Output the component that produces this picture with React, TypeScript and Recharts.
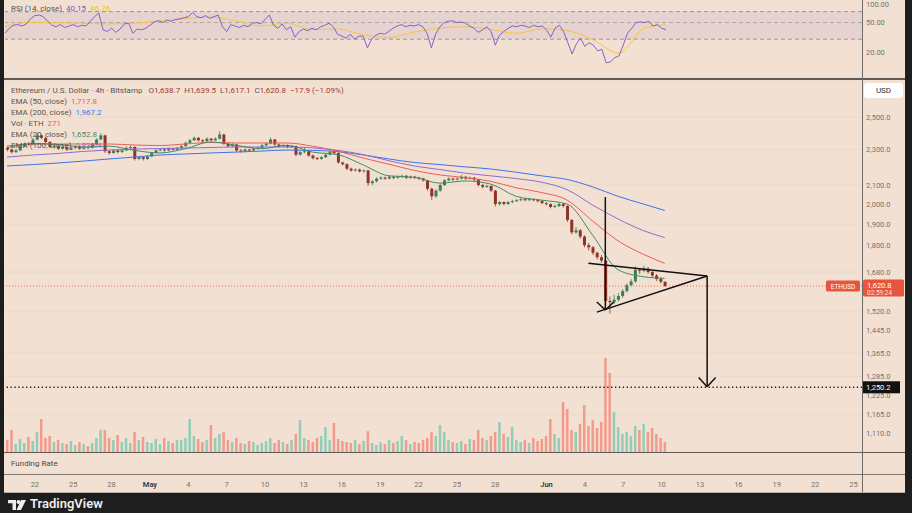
import React from 'react';
import {
  ComposedChart, Bar, Line, XAxis, YAxis, Cell, ReferenceLine, ReferenceArea, CartesianGrid
} from 'recharts';

/* ─── DATA ─────────────────────────────────────── */
// 8h candles: first Apr 19 16:00, last Jun 10 08:00
const FIRST_OPEN = 2310;
const CLOSE = [
  2300, 2285, 2295, 2320, 2335, 2330, 2360, 2385, 2370, 2345,
  2315, 2320, 2305, 2315, 2300, 2310, 2320, 2305, 2315, 2310,
  2330, 2360, 2385, 2290, 2280, 2295, 2285, 2295, 2310, 2315,
  2245, 2255, 2245, 2260, 2280, 2295, 2300, 2295, 2305, 2300,
  2310, 2320, 2340, 2355, 2370, 2355, 2350, 2365, 2355, 2365,
  2390, 2335, 2320, 2330, 2295, 2290, 2300, 2295, 2305, 2310,
  2325, 2335, 2360, 2330, 2320, 2325, 2315, 2320, 2270, 2285,
  2290, 2265, 2250, 2245, 2255, 2270, 2285, 2280, 2225, 2215,
  2190, 2180, 2185, 2175, 2180, 2110, 2120, 2135, 2140, 2135,
  2145, 2140, 2145, 2150, 2140, 2145, 2140, 2135, 2125, 2080,
  2040, 2070, 2100, 2125, 2135, 2130, 2135, 2145, 2135, 2140,
  2130, 2100, 2090, 2095, 2070, 2000, 2010, 2000, 2010, 2015,
  2020, 2025, 2020, 2025, 2020, 2015, 2005, 2000, 1985, 1990,
  2000, 1990, 1920, 1860, 1870, 1840, 1800, 1790, 1765, 1745,
  1730, 1560, 1555, 1565, 1580, 1600, 1625, 1640, 1690, 1685,
  1695, 1680, 1665, 1650, 1638.7, 1620.8,
];
const HIGH = [
  2318, 2306, 2302, 2326, 2342, 2344, 2368, 2402, 2392, 2376,
  2350, 2328, 2326, 2322, 2320, 2316, 2328, 2324, 2322, 2320,
  2336, 2368, 2398, 2390, 2296, 2302, 2300, 2302, 2318, 2324,
  2320, 2262, 2260, 2268, 2286, 2302, 2308, 2306, 2312, 2310,
  2316, 2328, 2348, 2364, 2378, 2376, 2362, 2372, 2370, 2374,
  2412, 2396, 2340, 2338, 2334, 2302, 2306, 2305, 2312, 2318,
  2332, 2342, 2372, 2364, 2336, 2332, 2330, 2326, 2324, 2292,
  2310, 2294, 2270, 2258, 2262, 2278, 2305, 2292, 2284, 2230,
  2220, 2196, 2192, 2190, 2186, 2184, 2128, 2142, 2148, 2146,
  2152, 2150, 2152, 2158, 2155, 2152, 2150, 2146, 2140, 2128,
  2086, 2078, 2108, 2132, 2142, 2140, 2142, 2155, 2150, 2146,
  2144, 2134, 2106, 2102, 2098, 2074, 2016, 2014, 2016, 2022,
  2026, 2032, 2030, 2031, 2028, 2024, 2020, 2010, 2004, 1998,
  2008, 2004, 1994, 1925, 1885, 1876, 1846, 1810, 1796, 1770,
  1755, 1736, 1578, 1585, 1592, 1608, 1632, 1650, 1705, 1698,
  1708, 1702, 1688, 1672, 1658, 1639.5,
];
const LOW = [
  2290, 2276, 2280, 2290, 2314, 2322, 2326, 2354, 2362, 2338,
  2308, 2306, 2298, 2300, 2292, 2294, 2304, 2298, 2300, 2302,
  2306, 2325, 2355, 2280, 2270, 2274, 2278, 2280, 2290, 2304,
  2236, 2238, 2236, 2240, 2255, 2276, 2290, 2288, 2290, 2294,
  2296, 2305, 2316, 2334, 2350, 2348, 2342, 2345, 2348, 2350,
  2360, 2328, 2312, 2314, 2285, 2282, 2285, 2288, 2290, 2300,
  2305, 2320, 2330, 2322, 2312, 2314, 2308, 2310, 2260, 2264,
  2278, 2258, 2242, 2238, 2240, 2250, 2265, 2272, 2218, 2208,
  2182, 2172, 2174, 2168, 2168, 2095, 2100, 2114, 2128, 2128,
  2130, 2132, 2134, 2138, 2132, 2134, 2132, 2128, 2118, 2070,
  2020, 2032, 2064, 2095, 2120, 2122, 2125, 2130, 2128, 2130,
  2122, 2092, 2082, 2084, 2062, 1988, 1992, 1994, 1996, 2005,
  2010, 2015, 2014, 2016, 2014, 2008, 1998, 1992, 1978, 1980,
  1984, 1982, 1910, 1850, 1852, 1830, 1790, 1775, 1755, 1735,
  1720, 1540, 1510, 1548, 1558, 1572, 1594, 1618, 1635, 1672,
  1680, 1672, 1656, 1642, 1632, 1617.1,
];
const VOLUME = [
  324, 594, 216, 351, 243, 405, 297, 540, 891, 378,
  432, 270, 324, 243, 216, 297, 189, 270, 216, 162,
  243, 378, 594, 594, 378, 324, 459, 270, 378, 243,
  540, 324, 405, 270, 243, 351, 216, 378, 297, 243,
  324, 324, 378, 891, 432, 351, 270, 324, 729, 378,
  486, 540, 324, 270, 378, 243, 216, 297, 270, 189,
  243, 297, 378, 243, 324, 270, 216, 324, 486, 864,
  378, 324, 270, 378, 432, 675, 324, 783, 351, 297,
  270, 243, 324, 216, 297, 560, 243, 189, 270, 216,
  324, 243, 297, 432, 324, 216, 270, 243, 324, 378,
  540, 432, 729, 540, 324, 270, 243, 297, 216, 351,
  324, 594, 378, 324, 432, 540, 810, 486, 405, 675,
  324, 270, 324, 243, 378, 297, 351, 432, 891, 486,
  378, 1350, 1161, 594, 540, 756, 1269, 702, 864, 648,
  810, 2538, 2133, 1080, 675, 486, 540, 432, 702, 594,
  756, 540, 648, 486, 378, 271,
];
const RSI = [
  36, 42, 46, 47, 45, 48, 56, 62, 63, 60,
  52, 46, 44, 47, 43, 45, 47, 44, 46, 45,
  52, 60, 67, 40, 38, 42, 37, 41, 48, 49,
  36, 41, 40, 42, 46, 51, 53, 50, 54, 52,
  55, 56, 58, 60, 68, 60, 58, 62, 57, 60,
  63, 44, 38, 47, 45, 43, 46, 44, 49, 50,
  48, 55, 63, 46, 42, 48, 40, 44, 32, 38,
  41, 39, 42, 40, 44, 46, 49, 44, 35, 33,
  31, 35, 30, 33, 33, 23, 30, 34, 36, 35,
  38, 42, 45, 47, 44, 46, 45, 47, 44, 36,
  23, 35, 44, 50, 52, 53, 50, 51, 49, 45,
  42, 37, 40, 44, 38, 25, 34, 38, 42, 45,
  44, 46, 45, 43, 46, 44, 45, 40, 32, 42,
  46, 38, 27, 19, 26, 31, 24, 27, 25, 21,
  22, 14.5, 15, 17, 18, 25, 36, 42, 50, 51,
  50, 52, 45, 47, 42, 40.15,
];
// indicators sampled every 6th candle (2 days); the last value sits on the final candle
const SAMPLE_STEP = 6;
const EMA20 = [2310, 2335, 2330, 2315, 2320, 2295, 2280, 2305, 2345, 2325, 2305, 2325, 2285, 2270, 2210, 2150, 2142, 2110, 2122, 2105, 2040, 2020, 2000, 1847, 1690, 1660, 1652.8];
const EMA50 = [2321, 2333, 2333, 2333, 2333, 2327, 2324, 2333, 2342, 2339, 2339, 2339, 2320, 2290, 2250, 2215, 2180, 2155, 2140, 2120, 2085, 2060, 2020, 1915, 1820, 1758, 1717.8];
const EMA100 = [2256, 2268, 2277, 2289, 2297, 2303, 2306, 2309, 2312, 2315, 2315, 2315, 2310, 2295, 2270, 2235, 2205, 2185, 2165, 2150, 2135, 2115, 2075, 1995, 1925, 1868, 1835.4];
const EMA200 = [2205, 2213, 2222, 2233, 2245, 2256, 2268, 2274, 2280, 2285, 2291, 2297, 2295, 2288, 2268, 2245, 2225, 2213, 2200, 2188, 2170, 2150, 2130, 2090, 2040, 2000, 1967.2];
const RSI_MA = [44, 50.5, 49.8, 49, 48, 49, 52, 56.5, 59, 53, 45, 49, 40.5, 41, 34.5, 31.7, 37.3, 42.3, 44, 40.5, 36, 41.3, 38.8, 29.3, 19.5, 42.5, 46.76];

const TOTAL_ROWS = 202;      // candles + empty future slots up to the right axis
const APR22_ROW = 7;         // row of Apr 22 00:00
const TICK_DAYS = [0, 3, 6, 9, 12, 15, 18, 21, 24, 27, 30, 33, 36, 40, 43, 46, 49, 52, 55, 58, 61, 64];
const TICK_LABELS = ['22', '25', '28', 'May', '4', '7', '10', '13', '16', '19', '22', '25', '28', 'Jun', '4', '7', '10', '13', '16', '19', '22', '25'];
const PRICE_TICKS = [1110, 1165, 1225, 1285, 1365, 1445, 1520, 1680, 1800, 1900, 2000, 2100, 2300, 2500];
const RSI_TICKS = [10, 20, 50, 100];
const TARGET = 1250.2;
const LAST = 1620.8;
const HEADER = { o: 1638.7, h: 1639.5, l: 1617.1, c: 1620.8, chg: -17.9, pct: -1.09 };

// hand drawn lines, as [candle row, price] pairs
const DRAWINGS = [
  [[141, 2036], [141, 1524]],
  [[139, 1556], [141, 1524]],
  [[143, 1556], [141, 1524]],
  [[137, 1718], [165, 1663]],
  [[139, 1516], [165, 1663]],
  [[165, 1663], [165, 1252]],
  [[163, 1282], [165, 1252]],
  [[167, 1282], [165, 1252]],
];

/* ─── ROWS ─────────────────────────────────────── */
const rows: any[] = Array.from({ length: TOTAL_ROWS }, (_, i) => {
  const r: any = { t: i };
  if (i < CLOSE.length) {
    r.o = i === 0 ? FIRST_OPEN : CLOSE[i - 1];
    r.c = CLOSE[i];
    r.h = HIGH[i];
    r.l = LOW[i];
    r.range = [LOW[i], HIGH[i]];
    r.vol = VOLUME[i];
    r.rsi = RSI[i];
  }
  return r;
});
EMA20.forEach((_, k) => {
  const r = rows[Math.min(k * SAMPLE_STEP, CLOSE.length - 1)];
  r.ema20 = EMA20[k];
  r.ema50 = EMA50[k];
  r.ema100 = EMA100[k];
  r.ema200 = EMA200[k];
  r.rsiMa = RSI_MA[k];
});
const LABEL_BY_ROW: Record<number, string> = {};
TICK_DAYS.forEach((d, k) => { LABEL_BY_ROW[APR22_ROW + d * 3] = TICK_LABELS[k]; });

/* ─── STYLE ─────────────────────────────────────── */
const FONT = 'Roboto, "Liberation Sans", Arial, sans-serif';
const BG = '#f2e1d2';
const UP = '#3d7d5a';
const DOWN = '#8f3527';
const C_EMA20 = '#3f8c66';
const C_EMA50 = '#ef5b55';
const C_EMA100 = '#8e6ad4';
const C_EMA200 = '#3d70ef';
const AXIS_TXT = '#767270';

const fmt = (v: number) => v.toLocaleString('en-US', { minimumFractionDigits: 1, maximumFractionDigits: 1 });

/* ─── SHAPES ─────────────────────────────────────── */
const Candle = (p: any) => {
  const { x, y, width, height, payload } = p;
  if (!payload || payload.o == null || !isFinite(y) || !isFinite(height)) return null;
  const top = Math.min(y, y + height);
  const hgt = Math.abs(height);
  const lnH = Math.log(payload.h), lnL = Math.log(payload.l);
  const py = (v: number) => top + hgt * (lnH - Math.log(v)) / (lnH - lnL || 1);
  const up = payload.c >= payload.o;
  const col = up ? UP : DOWN;
  const b0 = py(Math.max(payload.o, payload.c));
  const b1 = py(Math.min(payload.o, payload.c));
  const cx = x + width / 2;
  return (
    <g>
      <line x1={cx} x2={cx} y1={top} y2={top + hgt} stroke={col} strokeWidth={0.8} />
      <rect x={x} y={b0} width={width} height={Math.max(1, b1 - b0)} fill={col} />
    </g>
  );
};

const LastTag = ({ viewBox }: any) => {
  if (!viewBox) return null;
  const r = viewBox.x + viewBox.width;
  const y = viewBox.y;
  return (
    <g fontFamily={FONT}>
      <rect x={r - 36} y={y - 5.5} width={34} height={11} rx={1.5} fill="#e8553f" />
      <text x={r - 19} y={y + 2.5} fontSize={6.5} fill="#fff" textAnchor="middle">ETHUSD</text>
      <rect x={r + 1} y={y - 6.5} width={41} height={17} rx={1.5} fill="#e8553f" />
      <text x={r + 5} y={y + 1.5} fontSize={7.5} fill="#fff">{fmt(LAST)}</text>
      <text x={r + 5} y={y + 8.5} fontSize={6.5} fill="#fbe3dc">02:59:24</text>
    </g>
  );
};

const TargetTag = ({ viewBox }: any) => {
  if (!viewBox) return null;
  const r = viewBox.x + viewBox.width;
  const y = viewBox.y;
  return (
    <g fontFamily={FONT}>
      <rect x={r} y={y - 6} width={38} height={12} fill="#111" />
      <text x={r + 4} y={y + 2.8} fontSize={7.5} fill="#fff">{fmt(TARGET)}</text>
    </g>
  );
};

const DateTick = ({ x, y, payload }: any) => {
  const lab = LABEL_BY_ROW[payload?.value];
  if (!lab) return null;
  const strong = lab === 'May' || lab === 'Jun';
  return (
    <text x={x} y={y + 13} textAnchor="middle" fontSize={7.5} fontFamily={FONT}
      fill={strong ? '#3a3532' : AXIS_TXT} fontWeight={strong ? 600 : 400}>{lab}</text>
  );
};

/* ─── APP ─────────────────────────────────────── */
export default function App() {
  const legend: React.CSSProperties = {
    position: 'absolute', left: 11, fontSize: 8, lineHeight: '11px', color: '#5a5452',
    whiteSpace: 'nowrap', fontFamily: FONT,
  };
  const val = (c: string) => ({ color: c, marginLeft: 4 });
  return (
    <div style={{ position: 'fixed', left: 0, top: 0, width: 912, height: 513, background: '#1e1e1e', overflow: 'hidden', fontFamily: FONT }}>
      <div style={{ position: 'absolute', left: 4, top: 0, width: 901, height: 492, background: BG }} />

      {/* RSI pane */}
      <div style={{ position: 'absolute', left: 0, top: 0 }}>
        <ComposedChart width={905} height={78} data={rows} margin={{ top: 0, right: 0, bottom: 0, left: 5 }}>
          <XAxis dataKey="t" hide />
          <YAxis orientation="right" width={43} scale="log" domain={[9.12, 100]} allowDataOverflow ticks={RSI_TICKS}
            axisLine={false} tickLine={false} tickSize={0} tickMargin={4}
            tick={{ fontSize: 7.5, fill: AXIS_TXT, fontFamily: FONT }} tickFormatter={(v: number) => v.toFixed(2)} />
          <ReferenceArea y1={30} y2={70} fill="#7e57c2" fillOpacity={0.1} stroke="none" />
          <ReferenceLine y={70} stroke="#8b8280" strokeDasharray="4 3" strokeWidth={0.8} />
          <ReferenceLine y={50} stroke="#a39a96" strokeDasharray="4 3" strokeWidth={0.8} />
          <ReferenceLine y={30} stroke="#8b8280" strokeDasharray="4 3" strokeWidth={0.8} />
          <Line dataKey="rsiMa" type="monotone" stroke="#f3c63f" strokeWidth={1} dot={false} connectNulls isAnimationActive={false} />
          <Line dataKey="rsi" type="linear" stroke="#8461c8" strokeWidth={1} dot={false} isAnimationActive={false} />
        </ComposedChart>
      </div>
      <div style={{ ...legend, top: 2.5 }}>
        RSI (14, close)
        <span style={val('#7e57c2')}>{RSI[RSI.length - 1].toFixed(2)}</span>
        <span style={val('#f0c030')}>{RSI_MA[RSI_MA.length - 1].toFixed(2)}</span>
      </div>

      {/* price pane */}
      <div style={{ position: 'absolute', left: 0, top: 80 }}>
        <ComposedChart width={905} height={372} data={rows} margin={{ top: 0, right: 0, bottom: 0, left: 5 }}>
          <XAxis dataKey="t" hide />
          <XAxis dataKey="t" xAxisId="vol" hide />
          <YAxis orientation="right" width={43} scale="log" domain={[1059, 2749]} allowDataOverflow ticks={PRICE_TICKS}
            axisLine={false} tickLine={false} tickSize={0} tickMargin={4}
            tick={{ fontSize: 7.5, fill: AXIS_TXT, fontFamily: FONT }} tickFormatter={fmt} />
          <YAxis yAxisId="vol" hide domain={[0, 10044]} />
          <CartesianGrid vertical={false} stroke="rgba(120,80,50,0.06)" />
          <Bar dataKey="vol" xAxisId="vol" yAxisId="vol" barSize={2.5} isAnimationActive={false}>
            {rows.map((r, i) => (
              <Cell key={i} fill={r.c >= r.o ? '#93ccb7' : '#f29a8b'} />
            ))}
          </Bar>
          <ReferenceLine y={LAST} stroke="#ec6a55" strokeDasharray="1 2" strokeWidth={1} label={<LastTag />} />
          <ReferenceLine y={TARGET} stroke="#1c1c1c" strokeDasharray="1.3 2.6" strokeWidth={1.3} label={<TargetTag />} />
          <Line dataKey="ema200" type="monotone" stroke={C_EMA200} strokeWidth={1} dot={false} connectNulls isAnimationActive={false} />
          <Line dataKey="ema100" type="monotone" stroke={C_EMA100} strokeWidth={1} dot={false} connectNulls isAnimationActive={false} />
          <Line dataKey="ema50" type="monotone" stroke={C_EMA50} strokeWidth={1} dot={false} connectNulls isAnimationActive={false} />
          <Line dataKey="ema20" type="monotone" stroke={C_EMA20} strokeWidth={1} dot={false} connectNulls isAnimationActive={false} />
          <Bar dataKey="range" barSize={3} shape={(p: any) => <Candle {...p} />} isAnimationActive={false} />
          {DRAWINGS.map((s, k) => (
            <ReferenceLine key={k} segment={[{ x: s[0][0], y: s[0][1] }, { x: s[1][0], y: s[1][1] }]}
              stroke="#111" strokeWidth={1.5} />
          ))}
        </ComposedChart>
      </div>

      {/* legend */}
      <div style={{ ...legend, top: 84.5 }}>
        Ethereum / U.S. Dollar · 4h · Bitstamp
        <span style={{ marginLeft: 6 }}>O</span><span style={{ color: '#a5372c' }}>{fmt(HEADER.o)}</span>
        <span style={{ marginLeft: 4 }}>H</span><span style={{ color: '#a5372c' }}>{fmt(HEADER.h)}</span>
        <span style={{ marginLeft: 4 }}>L</span><span style={{ color: '#a5372c' }}>{fmt(HEADER.l)}</span>
        <span style={{ marginLeft: 4 }}>C</span><span style={{ color: '#a5372c' }}>{fmt(HEADER.c)}</span>
        <span style={{ color: '#a5372c', marginLeft: 4 }}>−{fmt(-HEADER.chg)} (−{(-HEADER.pct).toFixed(2)}%)</span>
      </div>
      <div style={{ ...legend, top: 96 }}>EMA (50, close)<span style={val(C_EMA50)}>{fmt(EMA50[EMA50.length - 1])}</span></div>
      <div style={{ ...legend, top: 107 }}>EMA (200, close)<span style={val(C_EMA200)}>{fmt(EMA200[EMA200.length - 1])}</span></div>
      <div style={{ ...legend, top: 118 }}>Vol · ETH<span style={val(C_EMA50)}>{VOLUME[VOLUME.length - 1]}</span></div>
      <div style={{ ...legend, top: 128.5 }}>EMA (20, close)<span style={val(C_EMA20)}>{fmt(EMA20[EMA20.length - 1])}</span></div>
      <div style={{ ...legend, top: 139.5 }}>EMA (100, close)<span style={val(C_EMA100)}>{fmt(EMA100[EMA100.length - 1])}</span></div>

      <div style={{ position: 'absolute', left: 864, top: 83, width: 39, height: 15, background: '#fff', borderRadius: 3,
        fontSize: 8, lineHeight: '15px', textAlign: 'center', color: '#2a2a2a' }}>USD</div>

      {/* funding pane + time axis */}
      <div style={{ position: 'absolute', left: 0, top: 452 }}>
        <ComposedChart width={905} height={40} data={rows} margin={{ top: 0, right: 43, bottom: 0, left: 5 }}>
          <XAxis dataKey="t" height={18} interval={0} axisLine={false} tickLine={false} tickSize={0} tickMargin={0} tick={<DateTick />} />
          <YAxis hide />
          <Line dataKey="c" stroke="none" dot={false} isAnimationActive={false} />
        </ComposedChart>
      </div>
      <div style={{ ...legend, top: 457.5, color: '#4e4845' }}>Funding Rate</div>

      {/* pane borders */}
      <div style={{ position: 'absolute', left: 4, top: 78, width: 901, height: 2, background: '#5f5a58' }} />
      <div style={{ position: 'absolute', left: 4, top: 451.5, width: 901, height: 1.5, background: '#5f5a58' }} />
      <div style={{ position: 'absolute', left: 4, top: 473.5, width: 901, height: 1, background: '#7d7775' }} />
      <div style={{ position: 'absolute', left: 4, top: 491.5, width: 901, height: 1, background: '#b9aca2' }} />
      <div style={{ position: 'absolute', left: 862, top: 0, width: 1, height: 492, background: '#6f6a68' }} />

      {/* footer */}
      <svg style={{ position: 'absolute', left: 8, top: 500 }} width={20} height={12}>
        <path d="M0 0h8v10H4.5V3.2H0z" fill="#eee" />
        <circle cx={10.5} cy={2} r={2} fill="#eee" />
        <path d="M13 0h5l-5 10h-4.5z" fill="#eee" />
      </svg>
      <div style={{ position: 'absolute', left: 30, top: 497, fontSize: 13, lineHeight: '14px', fontWeight: 600, color: '#eee' }}>TradingView</div>
    </div>
  );
}
